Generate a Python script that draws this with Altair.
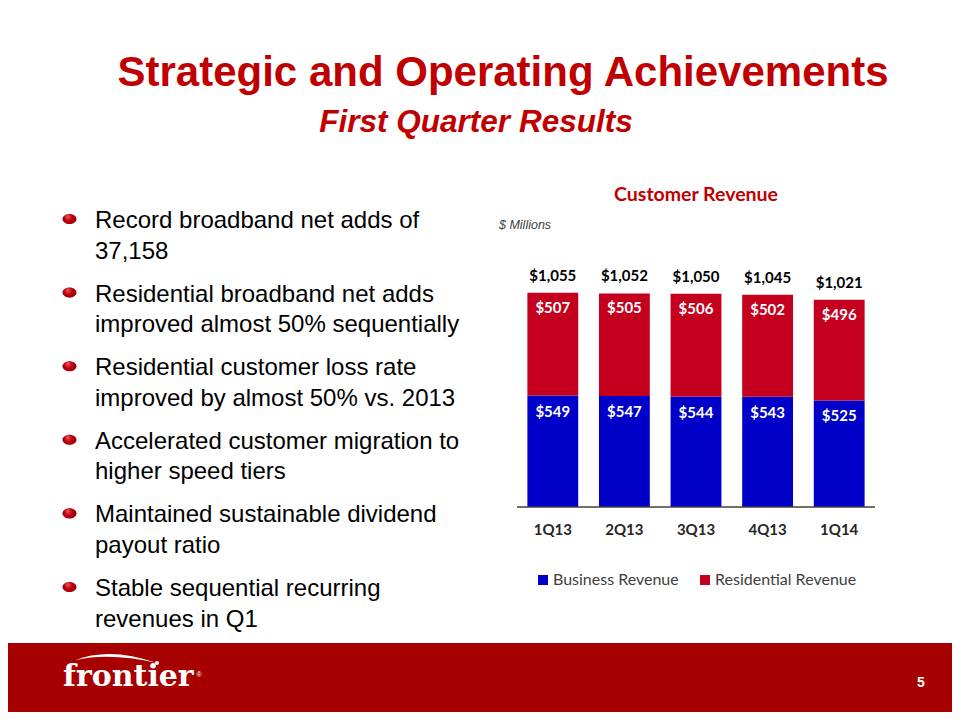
import altair as alt
import pandas as pd

# ---------------- data ----------------
quarters = ["1Q13", "2Q13", "3Q13", "4Q13", "1Q14"]
business = [549, 547, 544, 543, 525]
residential = [507, 505, 506, 502, 496]
totals = [1055, 1052, 1050, 1045, 1021]
series_names = ["Business Revenue", "Residential Revenue"]

bullets = [
    ["Record broadband net adds of", "37,158"],
    ["Residential broadband net adds", "improved almost 50% sequentially"],
    ["Residential customer loss rate", "improved by almost 50% vs. 2013"],
    ["Accelerated customer migration to", "higher speed tiers"],
    ["Maintained sustainable dividend", "payout ratio"],
    ["Stable sequential recurring", "revenues in Q1"],
]
title_text = "Strategic and Operating Achievements"
subtitle_text = "First Quarter Results"
chart_title_text = "Customer Revenue"
unit_text = "$ Millions"
page_number = "5"
brand_text = "frontier"

# ---------------- styling / layout ----------------
W, H = 944, 704
M = 8


def px(v):
    return v - M


BLUE = "#0000C8"
RED = "#C4001E"
TITLE_RED = "#C00000"
FOOTER_RED = "#A60000"
SANS = "Liberation Sans"
CHART_FONT = "Lato"

rows = []
for q, b, r in zip(quarters, business, residential):
    rows.append({"quarter": q, "series": series_names[0], "value": b, "ord": 0})
    rows.append({"quarter": q, "series": series_names[1], "value": r, "ord": 1})
df_long = pd.DataFrame(rows)

df_q = pd.DataFrame({
    "quarter": quarters,
    "business": business,
    "residential": residential,
    "total": totals,
    "bus_label": [f"${v:,}" for v in business],
    "res_label": [f"${v:,}" for v in residential],
    "tot_label": [f"${v:,}" for v in totals],
})

x_scale = alt.Scale(domain=quarters, range=[px(517), px(875)],
                    paddingInner=0.29, paddingOuter=0.145)
y_scale = alt.Scale(domain=[0, 1000], range=[px(507), px(507 - 203)],
                    nice=False, zero=True)


def one(s):
    return pd.DataFrame({"t": [s]})


def deco_text(s, x, y, **kw):
    return alt.Chart(one(s)).mark_text(**kw).encode(
        x=alt.value(x), y=alt.value(y), text="t:N")


layers = []

# footer band
layers.append(
    alt.Chart(one("footer")).mark_rect(color=FOOTER_RED).encode(
        x=alt.value(0), x2=alt.value(W), y=alt.value(px(643)), y2=alt.value(H))
)

# titles
layers.append(deco_text(title_text, px(503), px(86), font=SANS, fontSize=42,
                        fontWeight="bold", color=TITLE_RED, align="center",
                        baseline="alphabetic"))
layers.append(deco_text(subtitle_text, px(476), px(132), font=SANS, fontSize=31.5,
                        fontWeight="bold", fontStyle="italic", color=TITLE_RED,
                        align="center", baseline="alphabetic"))

# bullets
ball = {
    "gradient": "radial",
    "x1": 0.35, "y1": 0.3, "r1": 0.0,
    "x2": 0.5, "y2": 0.5, "r2": 0.6,
    "stops": [
        {"offset": 0.0, "color": "#F06060"},
        {"offset": 0.45, "color": "#C00010"},
        {"offset": 1.0, "color": "#7A0000"},
    ],
}
ellipse = "M -1 0 A 1 0.72 0 1 0 1 0 A 1 0.72 0 1 0 -1 0 Z"
for i, lines in enumerate(bullets):
    y1 = 221 + i * 73.6
    layers.append(
        alt.Chart(one(lines[0])).mark_text(
            font=SANS, fontSize=24, color="#000000", align="left",
            baseline="middle", lineHeight=30.5).encode(
            x=alt.value(px(95)), y=alt.value(px(y1)),
            text=alt.value(lines))
    )
    layers.append(
        alt.Chart(one("b")).mark_point(shape=ellipse, size=196, filled=True,
                                       fill=ball, opacity=1, strokeWidth=0).encode(
            x=alt.value(px(69.5)), y=alt.value(px(y1 - 2)))
    )

# chart title + unit
layers.append(deco_text(chart_title_text, px(696), px(195), font=CHART_FONT,
                        fontSize=19.5, fontWeight="bold", color=TITLE_RED,
                        align="center", baseline="middle"))
layers.append(deco_text(unit_text, px(499), px(225), font=SANS, fontSize=12.5,
                        fontStyle="italic", color="#404040", align="left",
                        baseline="middle"))

# bars
layers.append(
    alt.Chart(df_long).mark_bar().encode(
        x=alt.X("quarter:N", scale=x_scale, axis=None),
        y=alt.Y("value:Q", scale=y_scale, axis=None, stack="zero"),
        color=alt.Color("series:N",
                        scale=alt.Scale(domain=series_names, range=[BLUE, RED]),
                        legend=alt.Legend(orient="none", legendX=px(535),
                                          legendY=px(572), direction="horizontal",
                                          title=None, symbolType="square",
                                          symbolSize=100, symbolStrokeWidth=0,
                                          labelFont=CHART_FONT, labelFontSize=16,
                                          labelColor="#404040", columnPadding=18,
                                          labelOffset=2)),
        order=alt.Order("ord:Q"),
    )
)

# baseline
layers.append(
    alt.Chart(one("axis")).mark_rule(color="#404040", strokeWidth=1.5).encode(
        x=alt.value(px(517)), x2=alt.value(px(875)), y=alt.value(px(507)))
)

lbl = dict(font=CHART_FONT, fontWeight="bold", fontSize=15, baseline="middle",
           align="center")
layers.append(alt.Chart(df_q).mark_text(color="#000000", dy=-17, **lbl).encode(
    x=alt.X("quarter:N", scale=x_scale, axis=None),
    y=alt.Y("total:Q", scale=y_scale, axis=None), text="tot_label:N"))
layers.append(alt.Chart(df_q).mark_text(color="#FFFFFF", dy=15, **lbl).encode(
    x=alt.X("quarter:N", scale=x_scale, axis=None),
    y=alt.Y("total:Q", scale=y_scale, axis=None), text="res_label:N"))
layers.append(alt.Chart(df_q).mark_text(color="#FFFFFF", dy=16, **lbl).encode(
    x=alt.X("quarter:N", scale=x_scale, axis=None),
    y=alt.Y("business:Q", scale=y_scale, axis=None), text="bus_label:N"))
layers.append(alt.Chart(df_q).mark_text(color="#262626", **lbl).encode(
    x=alt.X("quarter:N", scale=x_scale, axis=None),
    y=alt.value(px(530)), text="quarter:N"))

# footer logo
layers.append(deco_text(brand_text, px(63), px(686), font="DejaVu Serif",
                        fontSize=30, fontWeight="bold", color="#FFFFFF",
                        align="left", baseline="alphabetic"))
swoosh = ("M -1 0.03 Q -0.15 -0.31 1 0.1 "
          "Q -0.15 -0.17 -1 0.03 Z")
layers.append(
    alt.Chart(one("swoosh")).mark_point(shape=swoosh, size=6724, filled=True,
                                        fill="#FFFFFF", opacity=1,
                                        strokeWidth=0).encode(
        x=alt.value(px(116)), y=alt.value(px(659)))
)
layers.append(
    alt.Chart(one("dot")).mark_point(shape="circle", size=16, filled=True,
                                     fill="#FFFFFF", opacity=1,
                                     strokeWidth=0).encode(
        x=alt.value(px(157)), y=alt.value(px(663)))
)
layers.append(deco_text("®", px(199), px(675), font=SANS, fontSize=7,
                        color="#FFFFFF", align="center", baseline="middle"))
layers.append(deco_text(page_number, px(921), px(683), font=SANS, fontSize=14,
                        fontWeight="bold", color="#FFFFFF", align="center",
                        baseline="middle"))

chart = alt.layer(*layers).properties(
    width=W, height=H, padding=0,
    autosize=alt.AutoSizeParams(type="none"),
    background="#FFFFFF",
).configure_view(stroke=None)

chart.save("out.html", embed_options={"renderer": "svg", "actions": False})
